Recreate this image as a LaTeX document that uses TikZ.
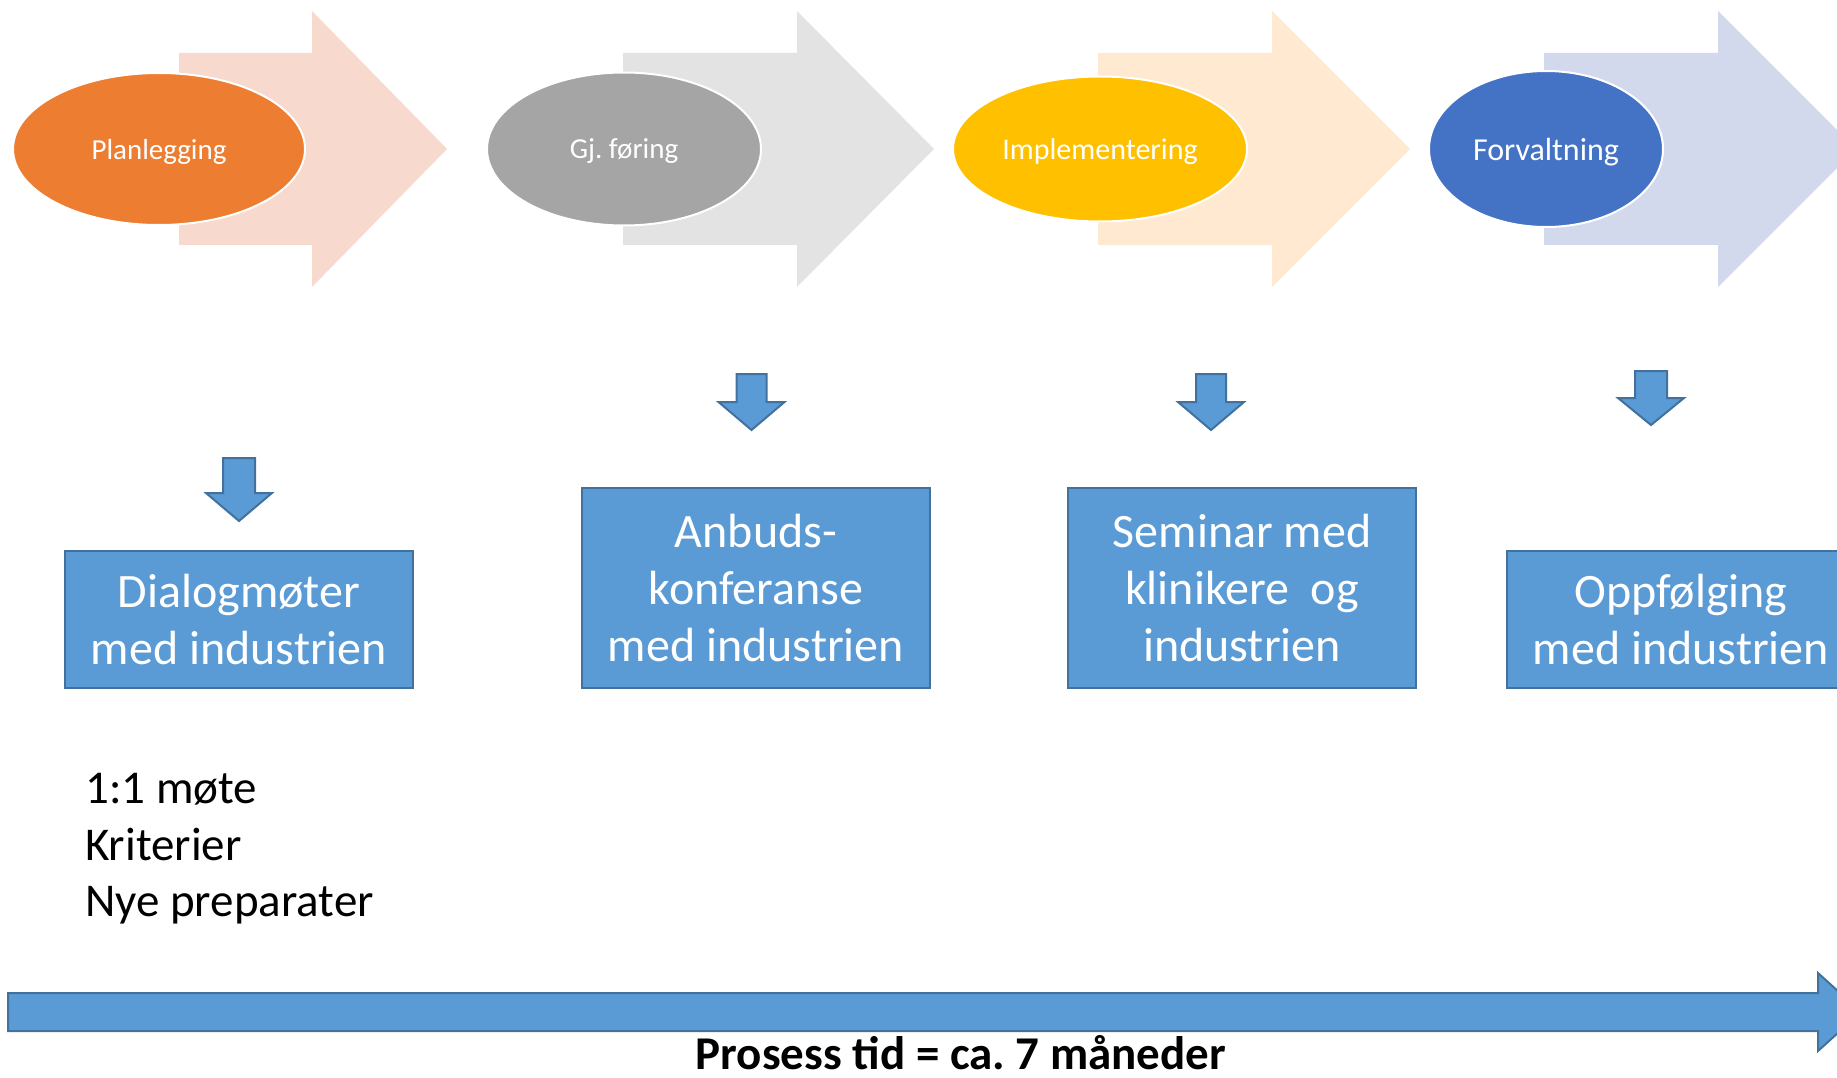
\documentclass[tikz,border=0pt]{standalone}
\usepackage{fontspec}
\setmainfont{Carlito}
\usetikzlibrary{shapes.geometric}
\frenchspacing
\definecolor{af1}{RGB}{248,217,206}
\definecolor{af2}{RGB}{227,227,227}
\definecolor{af3}{RGB}{255,233,208}
\definecolor{af4}{RGB}{211,217,236}
\definecolor{ec1}{HTML}{ED7D31}
\definecolor{ec2}{HTML}{A5A5A5}
\definecolor{ec3}{HTML}{FFC000}
\definecolor{ec4}{HTML}{4472C4}
\definecolor{boxfill}{HTML}{5B9BD5}
\definecolor{boxline}{HTML}{41719C}
\newcommand\dnarr[5]{% cx, top, shoulder, tip, shaft half
  \filldraw[darr] (#1-#5,#2) -- (#1+#5,#2) -- (#1+#5,#3) -- (#1+33,#3) -- (#1,#4) -- (#1-33,#3) -- (#1-#5,#3) -- cycle;}
\begin{document}
\begin{tikzpicture}[x=1pt,y=-1pt,
  phase/.style={ellipse, draw=white, line width=2, inner sep=0, text=white, text depth=0pt},
  infobox/.style={rectangle, draw=boxline, line width=2, fill=boxfill, text=white, inner sep=0,
    minimum width=348, align=center, font=\fontsize{48}{57}\selectfont},
  darr/.style={fill=boxfill, draw=boxline, line width=2, line join=miter},
  note/.style={anchor=base west, inner sep=0, font=\fontsize{47}{57}\selectfont}]
\useasboundingbox (0,0) rectangle (1837,1078);
\clip (0,0) rectangle (1837,1078);
% big phase arrows
\fill[af1] (179,53) -- (312,53) -- (312,11) -- (447,149) -- (312,287) -- (312,245) -- (179,245) -- cycle;
\fill[af2] (623,53) -- (797,53) -- (797,11) -- (934,149) -- (797,287) -- (797,245) -- (623,245) -- cycle;
\fill[af3] (1098,53) -- (1272,53) -- (1272,11) -- (1410,149) -- (1272,287) -- (1272,245) -- (1098,245) -- cycle;
\fill[af4] (1544,53) -- (1718,53) -- (1718,11) -- (1856,149) -- (1718,287) -- (1718,245) -- (1544,245) -- cycle;
% ellipses
\node[phase, fill=ec1, minimum width=292, minimum height=152, font=\fontsize{29}{34}\selectfont] (e1) at (159,149) {Planlegging};
\node[phase, fill=ec2, minimum width=274, minimum height=153, font=\fontsize{29}{34}\selectfont] (e2) at (624,149) {Gj. føring};
\node[phase, fill=ec3, minimum width=294, minimum height=145, font=\fontsize{30}{34}\selectfont] (e3) at (1100,149) {Implementering};
\node[phase, fill=ec4, minimum width=234, minimum height=156, font=\fontsize{32}{36}\selectfont] (e4) at (1546,149) {Forvaltning};
% small down arrows
\dnarr{239}{458}{493}{521}{16}
\dnarr{751.5}{374}{402}{430}{15}
\dnarr{1211}{374}{402}{430}{15}
\dnarr{1651}{371}{398}{425}{16}
% boxes
\node[infobox, minimum height=137] (b1) at (239,619.5) {Dialogmøter\\med industrien};
\node[infobox, minimum height=200] (b2) at (756,588) {Anbuds-\\konferanse\\med industrien};
\node[infobox, minimum height=200] (b3) at (1242,588) {Seminar med\\klinikere\ \ og\\industrien};
\node[infobox, minimum height=137] (b4) at (1681,619.5) {Oppfølging\\med industrien};
% notes
\node[note] (n1) at (85,803) {1:1 møte};
\node[note] (n2) at (85,860) {Kriterier};
\node[note] (n3) at (85,916) {Nye preparater};
% time line
\filldraw[darr] (8,993) -- (1818,993) -- (1818,973) -- (1861,1012) -- (1818,1051) -- (1818,1031) -- (8,1031) -- cycle;
\node[anchor=base, inner sep=0, text depth=0pt, font=\fontsize{47}{54}\selectfont\bfseries] (tl) at (961,1069) {Prosess tid = ca. 7 måneder};
\end{tikzpicture}
\end{document}
